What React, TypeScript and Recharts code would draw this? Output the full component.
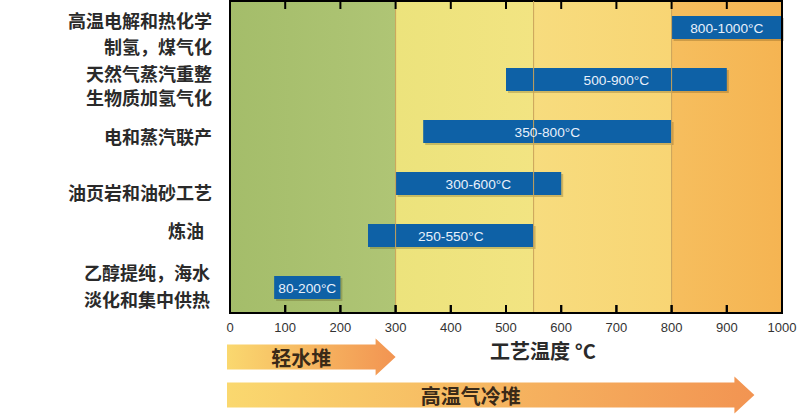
import React from 'react';
import {
  ComposedChart,
  Bar,
  XAxis,
  YAxis,
  ReferenceArea,
  ReferenceLine,
  LabelList,
} from 'recharts';

// ---- data ----
const categories = [
  '高温电解和热化学\n制氢，煤气化',
  '天然气蒸汽重整\n生物质加氢气化',
  '电和蒸汽联产',
  '油页岩和油砂工艺',
  '炼油',
  '乙醇提纯，海水\n淡化和集中供热',
];
const rangeStart = [800, 500, 350, 300, 250, 80];
const rangeEnd = [1000, 900, 800, 600, 550, 200];
const barLabels = ['800-1000°C', '500-900°C', '350-800°C', '300-600°C', '250-550°C', '80-200°C'];
const xTicks = [0, 100, 200, 300, 400, 500, 600, 700, 800, 900, 1000];
const zoneBounds = [0, 300, 550, 800, 1000];
const reactorNames = ['轻水堆', '高温气冷堆'];
const reactorMax = [300, 950];
const axisTitle = '工艺温度 °C';

// ---- style ----
const zoneGradients = [
  ['#a4bd6a', '#afc575'],
  ['#ece37c', '#f2e482'],
  ['#f7dc7e', '#f8d574'],
  ['#f6be5e', '#f5b452'],
];
const labelNudge = [5.5, 6, 5, 8.5, -5.5, -1.5];
const labelGap = [26, 24, 0, 0, 0, 27];
const labelRightShift = [0, 0, 0, 0, -8, -2];
const arrowOffset = [44, 82];
const arrowTextShift = [0, -10];
const CJK = '"Noto Sans CJK SC", "Noto Sans", sans-serif';
const LAT = '"Liberation Sans", Arial, sans-serif';
const MARGIN = { top: 1, right: 18, bottom: 41, left: 0 };
const FRAME = { stroke: '#000000', strokeWidth: 2 };

const data = categories.map((name, i) => ({
  name,
  range: [rangeStart[i], rangeEnd[i]],
  label: barLabels[i],
}));

const YTick = (props: any) => {
  const { x, y, payload, index } = props;
  const lines = String(payload.value).split('\n');
  const i = typeof index === 'number' ? index : categories.indexOf(payload.value);
  const gap = labelGap[i] || 0;
  const cy = y + (labelNudge[i] || 0);
  const start = cy - ((lines.length - 1) * gap) / 2;
  return (
    <g>
      {lines.map((l, k) => (
        <text
          key={k}
          x={x - 18 + (labelRightShift[i] || 0)}
          y={start + k * gap}
          textAnchor="end"
          dominantBaseline="central"
          fontFamily={CJK}
          fontWeight={700}
          fontSize={18}
          fill="#2a2a2a"
        >
          {l}
        </text>
      ))}
    </g>
  );
};

const BottomTick = (props: any) => {
  const { x, y, payload } = props;
  const inner = payload.value > 0 && payload.value < 1000;
  return (
    <g>
      {inner && <line x1={x} x2={x} y1={y} y2={y - 8} {...FRAME} />}
      <text
        x={x}
        y={y + 14}
        textAnchor="middle"
        dominantBaseline="central"
        fontFamily={LAT}
        fontSize={13}
        fill="#333"
      >
        {payload.value}
      </text>
    </g>
  );
};

const TopTick = (props: any) => {
  const { x, y, payload } = props;
  if (payload.value <= 0 || payload.value >= 1000) return <g />;
  return <line x1={x} x2={x} y1={y} y2={y + 8} {...FRAME} />;
};

const TickMarkShape = (props: any) => {
  const { x1, y1, y2 } = props;
  const top = Math.min(y1, y2);
  const bot = Math.max(y1, y2);
  return (
    <g>
      <line x1={x1} x2={x1} y1={top} y2={top + 8} {...FRAME} />
      <line x1={x1} x2={x1} y1={bot} y2={bot - 8} {...FRAME} />
    </g>
  );
};

const BarShape = (props: any) => {
  const { x, y, width, height } = props;
  return (
    <g>
      <rect x={x + 2} y={y + 2} width={width} height={height} fill="rgba(60,40,0,0.22)" />
      <rect x={x} y={y} width={width} height={height} fill="#0e61a6" />
    </g>
  );
};

const BarLabel = (props: any) => {
  const { x, y, width, height, value } = props;
  return (
    <text
      x={x + width / 2}
      y={y + height / 2 + 1}
      textAnchor="middle"
      dominantBaseline="central"
      fontFamily={LAT}
      fontSize={13.7}
      fill="#e8f0fb"
    >
      {value}
    </text>
  );
};

const AxisTitle = (props: any) => {
  const vb = props.viewBox || {};
  return (
    <text
      x={vb.x + vb.width * 0.567}
      y={vb.y + 37}
      textAnchor="middle"
      dominantBaseline="central"
      fontFamily={CJK}
      fontWeight={700}
      fontSize={20}
      fill="#2a2a2a"
    >
      {axisTitle}
    </text>
  );
};

const makeArrow = (i: number) => (props: any) => {
  const { x, y, width, height } = props;
  const cy = y + height + arrowOffset[i];
  const start = x - 3;
  const tip = x + width;
  const headLen = 20;
  const base = tip - headLen;
  const bh = 12.5;
  const hh = 18.5;
  const pts = [
    [start, cy - bh],
    [base, cy - bh],
    [base, cy - hh],
    [tip, cy],
    [base, cy + hh],
    [base, cy + bh],
    [start, cy + bh],
  ]
    .map((p) => p.join(','))
    .join(' ');
  return (
    <g>
      <polygon points={pts} fill="url(#arrowGrad)" />
      <text
        x={(start + base) / 2 + arrowTextShift[i]}
        y={cy}
        textAnchor="middle"
        dominantBaseline="central"
        fontFamily={CJK}
        fontWeight={700}
        fontSize={20}
        fill="#3a2a18"
      >
        {reactorNames[i]}
      </text>
    </g>
  );
};

export default function App() {
  return (
    <div style={{ position: 'absolute', left: 0, top: 0, width: 800, height: 414, background: '#fff' }}>
      <ComposedChart width={800} height={414} layout="vertical" data={data} margin={MARGIN}>
        <defs>
          {zoneGradients.map((g, i) => (
            <linearGradient key={i} id={`zone${i}`} x1="0" y1="0" x2="1" y2="0">
              <stop offset="0%" stopColor={g[0]} />
              <stop offset="100%" stopColor={g[1]} />
            </linearGradient>
          ))}
          <linearGradient id="arrowGrad" x1="0" y1="0" x2="1" y2="0">
            <stop offset="0%" stopColor="#fad86f" />
            <stop offset="100%" stopColor="#f29452" />
          </linearGradient>
        </defs>
        <XAxis
          type="number"
          domain={[0, 1000]}
          ticks={xTicks}
          interval={0}
          height={60}
          tickLine={false}
          tickSize={0}
          tickMargin={0}
          axisLine={FRAME}
          tick={<BottomTick />}
          label={<AxisTitle />}
        />
        <XAxis
          xAxisId="top"
          orientation="top"
          type="number"
          domain={[0, 1000]}
          ticks={xTicks}
          interval={0}
          height={0}
          tickLine={false}
          tickSize={0}
          tickMargin={0}
          axisLine={FRAME}
          tick={<TopTick />}
        />
        <YAxis
          type="category"
          dataKey="name"
          width={230}
          tickLine={false}
          tickSize={0}
          tickMargin={0}
          interval={0}
          axisLine={FRAME}
          tick={<YTick />}
        />
        {zoneGradients.map((_, i) => (
          <ReferenceArea
            key={`z${i}`}
            x1={zoneBounds[i]}
            x2={zoneBounds[i + 1]}
            fill={`url(#zone${i})`}
            fillOpacity={1}
            stroke="none"
          />
        ))}
        {reactorNames.map((n, i) => (
          <ReferenceArea key={`r${i}`} x1={0} x2={reactorMax[i]} shape={makeArrow(i)} />
        ))}
        {zoneBounds.slice(1, -1).map((b) => (
          <ReferenceLine key={`b${b}`} x={b} stroke="#c9a358" strokeWidth={1} />
        ))}
        <Bar dataKey="range" barSize={23} shape={<BarShape />} isAnimationActive={false}>
          <LabelList dataKey="label" content={<BarLabel />} />
        </Bar>
        <ReferenceArea x1={0} x2={1000} fill="none" fillOpacity={0} {...FRAME} />
        <ReferenceLine x={1000} {...FRAME} />
        {xTicks.slice(1, -1).map((t) => (
          <ReferenceLine key={`t${t}`} x={t} shape={TickMarkShape} />
        ))}
      </ComposedChart>
    </div>
  );
}
